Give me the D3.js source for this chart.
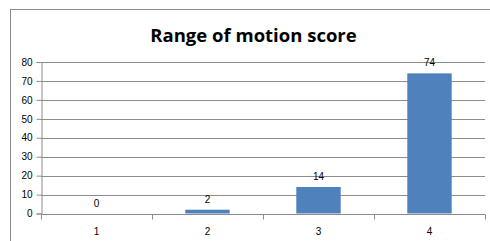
<!DOCTYPE html>
<meta charset="utf-8">
<style>
body { margin: 0; background: #fff; }
text { font-family: "Liberation Sans", Arial, sans-serif; }
</style>
<body>
<div id="chart"></div>
<script src="https://d3js.org/d3.v7.min.js"></script>
<script>
var categories = ["1", "2", "3", "4"];
var values = [0, 2, 14, 74];
var yTicks = [0, 10, 20, 30, 40, 50, 60, 70, 80];
var title = "Range of motion score";

var width = 490, height = 241;
var plotLeft = 41, plotRight = 485, plotTop = 62, plotBottom = 213.5;

var svg = d3.select("#chart").append("svg")
    .attr("width", width)
    .attr("height", height);

// chart frame
svg.append("rect")
    .attr("x", 10.5).attr("y", 9.5)
    .attr("width", 490).attr("height", 250)
    .attr("fill", "#fff")
    .attr("stroke", "#8c8c8c");

svg.append("text")
    .attr("x", 253.5).attr("y", 41.5)
    .attr("text-anchor", "middle")
    .style("font-family", "'Open Sans', sans-serif")
    .style("font-weight", "bold")
    .style("font-size", "18.5px")
    .attr("fill", "#000")
    .text(title);

var x = d3.scaleBand().domain(categories).range([plotLeft, plotRight]);
var y = d3.scaleLinear().domain([0, 80]).range([plotBottom, plotTop]);

// gridlines
svg.append("g").selectAll("line")
    .data(yTicks.filter(function(d) { return d > 0; }))
    .enter().append("line")
    .attr("x1", plotLeft).attr("x2", plotRight)
    .attr("y1", function(d) { return Math.round(y(d)) + 0.5; })
    .attr("y2", function(d) { return Math.round(y(d)) + 0.5; })
    .attr("stroke", "#8c8c8c");

// y axis
var yAxis = svg.append("g")
    .attr("transform", "translate(" + (plotLeft + 0.5) + ",0)")
    .call(d3.axisLeft(y).tickValues(yTicks).tickSize(5).tickPadding(4));
yAxis.select(".domain").attr("stroke", "#8c8c8c");
yAxis.selectAll(".tick line").attr("stroke", "#8c8c8c");
yAxis.selectAll(".tick text")
    .style("font-size", "10px")
    .attr("fill", "#000")
    .attr("x", -9);

// bars
var barW = x.bandwidth() * 0.4;
svg.append("g").selectAll("rect")
    .data(values)
    .enter().append("rect")
    .attr("x", function(d, i) { return x(categories[i]) + (x.bandwidth() - barW) / 2; })
    .attr("width", barW)
    .attr("y", function(d) { return y(d); })
    .attr("height", function(d) { return plotBottom - y(d); })
    .attr("fill", "#4f81bd");

// x axis
var xAxis = svg.append("g")
    .attr("transform", "translate(0," + (Math.round(plotBottom) + 0.5) + ")");
xAxis.append("line")
    .attr("x1", plotLeft).attr("x2", plotRight)
    .attr("stroke", "#8c8c8c");
xAxis.selectAll(".tk")
    .data(d3.range(categories.length + 1))
    .enter().append("line")
    .attr("class", "tk")
    .attr("x1", function(i) { return Math.round(plotLeft + i * x.step()) + 0.5; })
    .attr("x2", function(i) { return Math.round(plotLeft + i * x.step()) + 0.5; })
    .attr("y1", 0).attr("y2", 5)
    .attr("stroke", "#8c8c8c");
xAxis.selectAll("text")
    .data(categories)
    .enter().append("text")
    .attr("x", function(d) { return x(d) + x.bandwidth() / 2; })
    .attr("y", 20)
    .attr("text-anchor", "middle")
    .style("font-size", "10px")
    .attr("fill", "#000")
    .text(function(d) { return d; });

// value labels
svg.append("g").selectAll("text")
    .data(values)
    .enter().append("text")
    .attr("x", function(d, i) { return x(categories[i]) + x.bandwidth() / 2; })
    .attr("y", function(d) { return y(d) - 7; })
    .attr("text-anchor", "middle")
    .style("font-size", "10px")
    .attr("fill", "#000")
    .text(function(d) { return d; });
</script>
</body>
